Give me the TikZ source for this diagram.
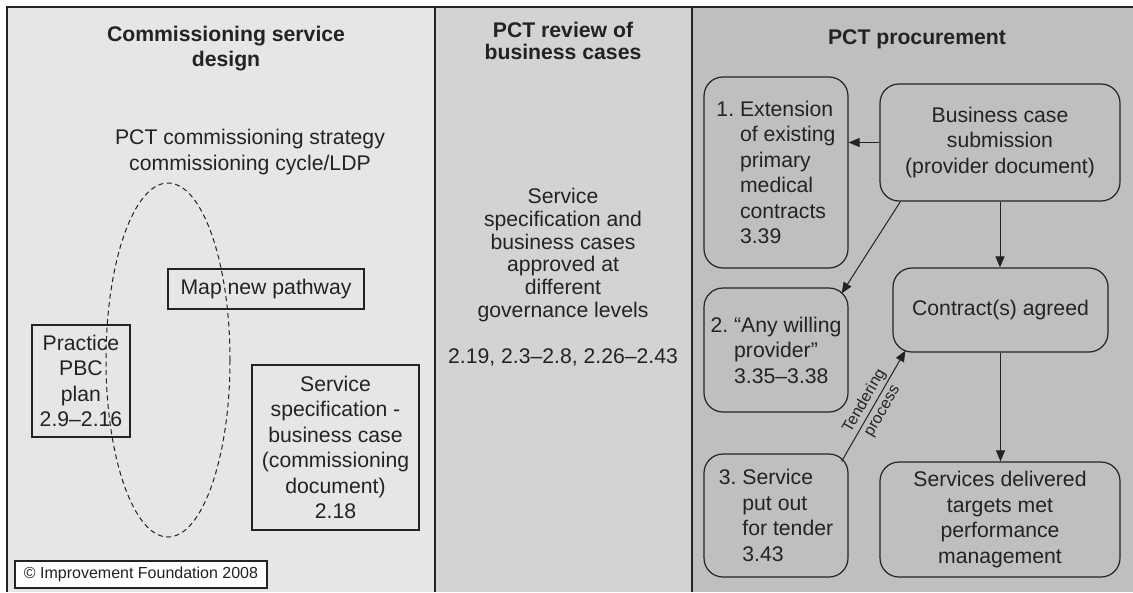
\documentclass[tikz,border=0pt]{standalone}
\usepackage{fontspec}
\setmainfont{Liberation Sans}
\usepackage{xcolor}
\usepackage{tikz}
\usetikzlibrary{arrows.meta}

\definecolor{colone}{RGB}{229,230,232}
\definecolor{coltwo}{RGB}{210,211,213}
\definecolor{colthree}{RGB}{190,191,193}
\definecolor{ink}{RGB}{35,35,35}

\tikzset{
  txt/.style={align=center,text=ink,inner sep=0pt,font=\fontsize{21.2}{25.5}\selectfont},
  ttl/.style={txt,font=\fontsize{21.2}{25}\selectfont\bfseries},
  plainbox/.style={txt,draw=ink,line width=1.2pt},
  roundbox/.style={plainbox,rounded corners=19pt},
  arr/.style={draw=ink,line width=1pt,-{Triangle[length=11pt,width=9pt]}}
}

\begin{document}
\begin{tikzpicture}[x=1pt,y=-1pt]
\useasboundingbox (0,0) rectangle (1133,592);
% columns
\fill[colone] (7,7) rectangle (435,592);
\fill[coltwo] (435,7) rectangle (692,592);
\fill[colthree] (692,7) rectangle (1133,592);
\draw[ink,line width=1.6pt] (7,592) -- (7,7) -- (1133,7);
\draw[ink,line width=1.6pt] (435,7) -- (435,592);
\draw[ink,line width=1.6pt] (692,7) -- (692,592);

% commissioning service design
\node (ttlone) at (226,49) [ttl] {Commissioning service\\design};
\node (strategy) at (250,152) [txt] {PCT commissioning strategy\\commissioning cycle/LDP};
\draw[ink,line width=1pt,dash pattern=on 5pt off 3.5pt] (168,360) ellipse [x radius=62, y radius=177];
\node (map) at (266,289) [plainbox,minimum width=196,minimum height=40] {Map new pathway};
\node (pbc) at (81,381) [plainbox,minimum width=98,minimum height=112] {Practice\\PBC\\plan\\2.9--2.16};
\node (spec) at (335.5,447.5) [plainbox,minimum width=167,minimum height=165] {Service\\specification -\\business case\\(commissioning\\document)\\2.18};
\node (copy) at (141,574.5) [plainbox,fill=white,minimum width=252,minimum height=27,font=\fontsize{16}{18}\selectfont] {© Improvement Foundation 2008};

% PCT review of business cases
\node (ttltwo) at (563,41) [ttl,font=\fontsize{21.2}{21.5}\selectfont\bfseries] {PCT review of\\business cases};
\node (review) at (563,277) [txt,font=\fontsize{21.2}{22.8}\selectfont] {Service\\specification and\\business cases\\approved at\\different\\governance levels\\[22.8pt]2.19, 2.3--2.8, 2.26--2.43};

% PCT procurement
\node (ttlthree) at (917,39.5) [ttl] {PCT procurement};
\node (ext) at (776,172.5) [roundbox,align=left,minimum width=144,minimum height=191] {1.~Extension\\\hphantom{1.~}of existing\\\hphantom{1.~}primary\\\hphantom{1.~}medical\\\hphantom{1.~}contracts\\\hphantom{1.~}3.39};
\node (awp) at (776,350) [roundbox,align=left,minimum width=144,minimum height=124] {2.~“Any willing\\\hphantom{2.~}provider”\\\hphantom{2.~}3.35--3.38};
\node (tender) at (776,515.5) [roundbox,align=left,minimum width=144,minimum height=123] {3.~Service\\\hphantom{3.~}put out\\\hphantom{3.~}for tender\\\hphantom{3.~}3.43};
\node (bcase) at (1000,142.5) [roundbox,minimum width=240,minimum height=117] {Business case\\submission\\(provider document)};
\node (contract) at (1000.5,310) [roundbox,minimum width=215,minimum height=84] {Contract(s) agreed};
\node (services) at (1000,519.5) [roundbox,minimum width=240,minimum height=115] {Services delivered\\targets met\\performance\\management};

\draw[arr] (bcase.west) -- (bcase.west -| ext.east);
\draw[arr] ([xshift=21]bcase.south west) -- ([shift={(-7,6)}]awp.north east);
\draw[arr] (bcase.south) -- (bcase.south |- contract.north);
\draw[arr] (contract.south) -- (contract.south |- services.north);
\draw[arr] ([shift={(-7,8)}]tender.north east) -- ([shift={(13,-2)}]contract.south west)
  node [midway,sloped,txt,font=\fontsize{16}{20.5}\selectfont] {Tendering\\process};
\end{tikzpicture}
\end{document}
